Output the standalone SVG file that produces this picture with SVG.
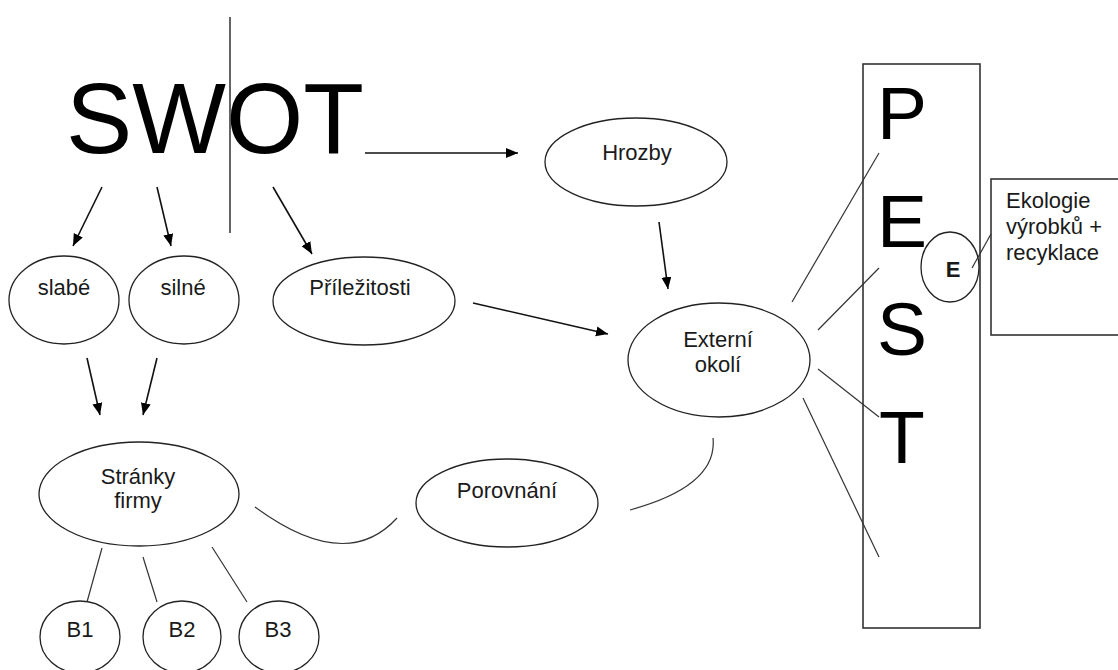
<svg xmlns="http://www.w3.org/2000/svg" width="1118" height="670" viewBox="0 0 1118 670">
<style>
.n{fill:none;stroke:#222;stroke-width:1.3}
.t{font-family:"Liberation Sans",Arial,sans-serif;font-size:22px;fill:#1a1a1a;text-anchor:middle}
.big{font-family:"Liberation Sans",Arial,sans-serif;fill:#000}
.a{fill:none;stroke:#111;stroke-width:1.6}
.l{fill:none;stroke:#333;stroke-width:1.2}
</style>
<defs>
<marker id="ah" markerUnits="userSpaceOnUse" markerWidth="14" markerHeight="12" refX="12" refY="5" orient="auto">
<path d="M0,0 L12,5 L0,10 Z" fill="#000"/>
</marker>
</defs>
<rect width="1118" height="670" fill="#fff"/>

<g id="swot">
<text class="big" x="66" y="153" font-size="101" textLength="298" lengthAdjust="spacingAndGlyphs">SWOT</text>
<line x1="230" y1="17" x2="230" y2="233" stroke="#222" stroke-width="1.4"/>
</g>

<g id="slabe"><ellipse class="n" cx="64" cy="300" rx="55" ry="44"/><text class="t" x="64" y="295">slabé</text></g>
<g id="silne"><ellipse class="n" cx="184" cy="300" rx="55" ry="44"/><text class="t" x="183" y="295">silné</text></g>
<g id="prilezitosti"><ellipse class="n" cx="364" cy="301" rx="91" ry="44"/><text class="t" x="360" y="295">Příležitosti</text></g>
<g id="hrozby"><ellipse class="n" cx="636" cy="162" rx="91" ry="44"/><text class="t" x="637" y="160">Hrozby</text></g>
<g id="externi"><ellipse class="n" cx="719" cy="360" rx="91" ry="57"/><text class="t" x="718" y="347">Externí</text><text class="t" x="718" y="372">okolí</text></g>
<g id="stranky"><ellipse class="n" cx="139" cy="494" rx="100" ry="52"/><text class="t" x="138" y="484">Stránky</text><text class="t" x="138" y="508">firmy</text></g>
<g id="porovnani"><ellipse class="n" cx="507" cy="503" rx="91" ry="44"/><text class="t" x="507" y="498">Porovnání</text></g>
<g id="b1"><ellipse class="n" cx="80" cy="637" rx="40" ry="36"/><text class="t" x="80" y="637">B1</text></g>
<g id="b2"><ellipse class="n" cx="182" cy="637" rx="39" ry="36"/><text class="t" x="182" y="637">B2</text></g>
<g id="b3"><ellipse class="n" cx="279" cy="637" rx="40" ry="36"/><text class="t" x="278" y="637">B3</text></g>

<g id="pest">
<rect x="863" y="64" width="117" height="564" fill="none" stroke="#333" stroke-width="1.6"/>
<text class="big" x="877" y="139" font-size="75">P</text>
<text class="big" x="877" y="247" font-size="75">E</text>
<text class="big" x="877" y="355" font-size="75">S</text>
<text class="big" x="879" y="463" font-size="75">T</text>
</g>
<g id="e-small"><ellipse class="n" cx="950" cy="267" rx="29" ry="35"/><text class="t" x="953" y="277" font-size="20" font-weight="bold">E</text></g>
<g id="ekologie">
<rect x="991" y="179" width="140" height="156" fill="none" stroke="#333" stroke-width="1.6"/>
<text class="t" x="1006" y="208" style="text-anchor:start">Ekologie</text>
<text class="t" x="1006" y="234" style="text-anchor:start">výrobků +</text>
<text class="t" x="1006" y="260" style="text-anchor:start">recyklace</text>
</g>

<g id="connectors">
<line class="a" x1="365" y1="153" x2="518" y2="153" marker-end="url(#ah)"/>
<line class="a" x1="102" y1="187" x2="73" y2="246" marker-end="url(#ah)"/>
<line class="a" x1="157" y1="187" x2="171" y2="246" marker-end="url(#ah)"/>
<line class="a" x1="273" y1="187" x2="312" y2="254" marker-end="url(#ah)"/>
<line class="a" x1="87" y1="358" x2="100" y2="415" marker-end="url(#ah)"/>
<line class="a" x1="157" y1="358" x2="143" y2="415" marker-end="url(#ah)"/>
<line class="a" x1="659" y1="222" x2="668" y2="289" marker-end="url(#ah)"/>
<line class="a" x1="473" y1="303" x2="608" y2="334" marker-end="url(#ah)"/>
<line class="l" x1="102" y1="548" x2="87" y2="602"/>
<line class="l" x1="143" y1="557" x2="157" y2="602"/>
<line class="l" x1="212" y1="547" x2="247" y2="602"/>
<path class="l" d="M255,507 Q346,574 397,518"/>
<path class="l" d="M630,510 Q718,486 713,438"/>
<line class="l" x1="792" y1="302" x2="879" y2="153"/>
<line class="l" x1="818" y1="330" x2="879" y2="268"/>
<line class="l" x1="818" y1="369" x2="879" y2="417"/>
<line class="l" x1="803" y1="398" x2="879" y2="557"/>
<line class="l" x1="972" y1="268" x2="991" y2="234"/>
</g>
</svg>
